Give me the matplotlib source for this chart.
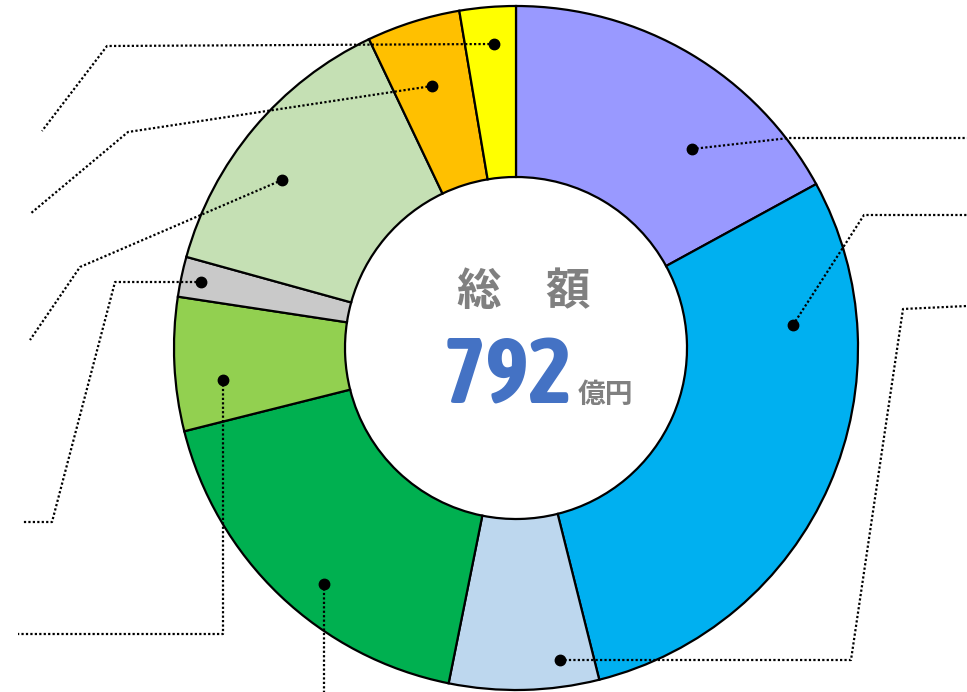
import matplotlib
matplotlib.use("Agg")
import matplotlib.pyplot as plt
from matplotlib import font_manager
from matplotlib.font_manager import FontProperties
from matplotlib.textpath import TextPath

# ---- data (億円) ----
categories = ["区分A", "区分B", "区分C", "区分D", "区分E", "区分F", "区分G", "区分H", "区分I"]
values = [135, 230, 56, 142, 50, 15, 108, 35, 21]
colors = ["#9999FF", "#00B0F0", "#BDD7EE", "#00B050", "#92D050",
          "#C9C9C9", "#C5E0B4", "#FFC000", "#FFFF00"]
total_label = "792"
title_label = "総\u3000額"
unit_label = "億円"

# ---- layout (pixel coordinates, y measured from top) ----
W, H = 967, 692
center_px = (516, 348)
radius = 342
ring_width = 171

leaders = [
    [(692, 149), (789, 138), (967, 138)],
    [(793, 325), (864, 215), (967, 215)],
    [(560, 660), (851, 660), (903, 309), (967, 306)],
    [(324, 584), (324, 700)],
    [(223, 380), (223, 634), (18, 634)],
    [(201, 282), (115, 282), (52, 522), (22, 522)],
    [(282, 180), (80, 267), (30, 340)],
    [(432, 86), (128, 132), (30, 214)],
    [(494, 44), (107, 46), (42, 131)],
]

def fy(y):
    return H - y

fig = plt.figure(figsize=(W / 100, H / 100), dpi=100)
ax = fig.add_axes([0, 0, 1, 1])

ax.pie(values, colors=colors, startangle=90, counterclock=False,
       radius=radius, center=(center_px[0], fy(center_px[1])),
       wedgeprops=dict(width=ring_width, edgecolor="black", linewidth=1.6))

for path in leaders:
    xs = [p[0] for p in path]
    ys = [fy(p[1]) for p in path]
    ax.plot(xs, ys, color="black", linewidth=1.6, linestyle=(0, (1, 1)),
            dash_capstyle="butt", zorder=5)
    ax.plot(xs[0], ys[0], "o", color="black", markersize=7.5, zorder=6)

ax.set_xlim(0, W)
ax.set_ylim(0, H)
ax.set_aspect("equal")
ax.axis("off")

cjk = ["Noto Sans CJK JP", "DejaVu Sans"]
ax.text(524, fy(292), title_label, ha="center", va="center", fontsize=32,
        fontweight="bold", color="#808080", family=cjk)

# choose an upright bold sans font whose "792" is closest to the condensed reference
target_ratio = 122 / 66
best = None
for f in font_manager.fontManager.ttflist:
    low = (f.name + " " + f.fname).lower()
    if any(k in low for k in ("mono", "serif", "math", "symbol", "stix", "italic",
                              "oblique", "slant", "cmr", "cmb", "cmex", "cmsy",
                              "cmtt", "cmmi", "cmss")):
        continue
    if f.style != "normal":
        continue
    wt = str(f.weight)
    w = int(wt) if wt.isdigit() else {"bold": 700, "heavy": 800, "black": 900,
                                      "semibold": 600, "demibold": 600}.get(wt, 400)
    if w < 650:
        continue
    try:
        fp = FontProperties(fname=f.fname)
        tp = TextPath((0, 0), total_label, size=100, prop=fp)
        ext = tp.get_extents()
        if ext.height <= 0:
            continue
        ratio = ext.width / ext.height
    except Exception:
        continue
    score = abs(ratio - target_ratio)
    if best is None or score < best[0]:
        best = (score, f.fname, ext.height / 100.0)

if best is not None:
    size_pt = 66 / (best[2] * 100 / 72)
    numprop = FontProperties(fname=best[1], size=size_pt)
else:
    numprop = FontProperties(family="Liberation Sans", weight="bold", size=60)

t = ax.text(0, fy(403), total_label, ha="left", va="baseline",
            color="#4472C4", fontproperties=numprop)
u = ax.text(0, fy(403), unit_label, ha="left", va="baseline", fontsize=20,
            fontweight="bold", color="#808080", family=cjk)

fig.canvas.draw()
r = fig.canvas.get_renderer()
tw = t.get_window_extent(r).width
uw = u.get_window_extent(r).width
gap = 5
group_center = 538
x0 = group_center - (tw + gap + uw) / 2
t.set_x(x0)
u.set_x(x0 + tw + gap)

fig.savefig("out.png", dpi=100)
